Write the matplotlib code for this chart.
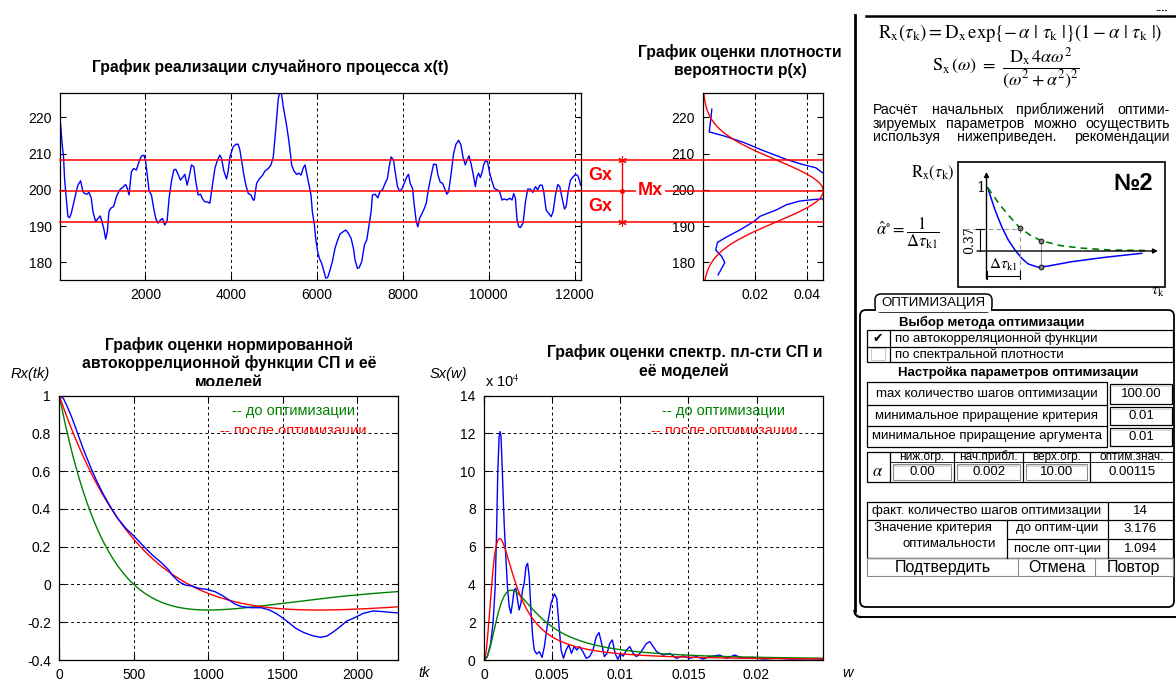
import numpy as np
import matplotlib
matplotlib.use("Agg")
import matplotlib.pyplot as plt
from matplotlib.patches import Rectangle, FancyBboxPatch
from matplotlib.transforms import blended_transform_factory, Bbox

plt.rcParams['font.family'] = ['Liberation Sans', 'DejaVu Sans']
plt.rcParams['mathtext.fontset'] = 'stix'

# ---------------------------------------------------------------- data
# realisation of the random process x(t)
t_real = [10, 23, 62, 93, 117, 156, 195, 233, 272, 327, 389, 428, 490, 545, 584, 638, 685, 739,
          778, 840, 895, 949, 996, 1035, 1074, 1113, 1151, 1190, 1260, 1323, 1400, 1463, 1540,
          1579, 1618, 1673, 1727, 1789, 1852, 1906, 1968, 2007, 2038, 2085, 2140, 2194, 2241,
          2295, 2350, 2396, 2451, 2505, 2552, 2606, 2661, 2707, 2762, 2816, 2879, 2918, 2972,
          3019, 3073, 3128, 3174, 3229, 3283, 3330, 3384, 3439, 3501, 3563, 3618, 3672, 3734,
          3773, 3828, 3890, 3929, 3968, 4046, 4108, 4162, 4201, 4240, 4294, 4341, 4396, 4458,
          4512, 4536, 4590, 4652, 4722, 4785, 4862, 4925, 4979, 5018, 5057, 5096, 5135, 5174,
          5213, 5275, 5329, 5368, 5407, 5461, 5524, 5578, 5625, 5679, 5718, 5757, 5812, 5858,
          5889, 5936, 5967, 6014, 6053, 6107, 6162, 6201, 6247, 6302, 6356, 6418, 6481, 6535,
          6613, 6667, 6730, 6792, 6846, 6885, 6940, 6979, 7041, 7103, 7158, 7212, 7259, 7290,
          7352, 7414, 7469, 7523, 7585, 7640, 7679, 7725, 7780, 7819, 7873, 7920, 7974, 8029,
          8091, 8130, 8169, 8224, 8263, 8310, 8348, 8387, 8426, 8481, 8543, 8597, 8660, 8714,
          8776, 8815, 8870, 8924, 8971, 9025, 9064, 9119, 9181, 9235, 9298, 9352, 9399, 9453,
          9492, 9539, 9585, 9632, 9687, 9725, 9764, 9803, 9842, 9881, 9928, 9974, 10021, 10076,
          10130, 10192, 10247, 10309, 10363, 10426, 10488, 10542, 10581, 10620, 10659, 10698,
          10737, 10799, 10854, 10908, 10970, 11025, 11087, 11141, 11188, 11243, 11281, 11336,
          11398, 11453, 11499, 11554, 11608, 11655, 11709, 11764, 11803, 11849, 11904, 11966,
          12021, 12075, 12122, 12137]
x_real = [219.7, 218.1, 212.4, 209.0, 203.0, 197.6, 192.6, 192.3, 193.5, 196.3, 199.5, 201.3,
          202.5, 199.5, 199.0, 198.8, 199.3, 197.7, 194.0, 191.2, 192.1, 192.8, 190.8, 189.0,
          186.4, 188.5, 194.0, 194.9, 195.4, 198.1, 200.0, 200.6, 201.5, 200.4, 198.6, 205.0,
          205.9, 205.5, 207.8, 209.3, 209.6, 207.8, 204.6, 199.7, 198.6, 194.9, 192.1, 190.8,
          191.7, 192.1, 190.3, 191.4, 197.7, 202.3, 205.5, 205.7, 204.3, 202.7, 203.6, 204.3,
          201.3, 203.6, 206.9, 206.4, 202.3, 198.6, 198.8, 197.5, 196.7, 196.7, 196.3, 201.3,
          205.9, 208.0, 209.6, 208.7, 205.2, 203.0, 205.2, 209.1, 211.9, 212.6, 212.6, 211.0,
          208.2, 204.1, 201.3, 199.0, 198.6, 197.2, 197.2, 201.8, 203.0, 203.9, 205.2, 205.9,
          206.9, 209.1, 214.2, 219.7, 225.2, 227.5, 226.2, 222.9, 218.8, 214.7, 211.0, 206.9,
          205.2, 204.3, 204.6, 204.1, 206.1, 206.9, 204.6, 201.3, 198.6, 194.0, 190.3, 186.6,
          182.9, 181.1, 179.7, 177.4, 175.6, 175.8, 177.9, 180.2, 183.9, 186.2, 187.8, 188.5,
          188.9, 188.0, 186.6, 183.9, 180.6, 178.3, 178.5, 180.2, 184.8, 186.2, 190.3, 194.0,
          198.6, 198.8, 197.8, 199.7, 200.0, 201.8, 203.2, 206.4, 209.1, 208.2, 205.0, 200.9,
          199.7, 200.2, 201.8, 203.6, 204.3, 201.8, 200.4, 195.8, 191.2, 189.8, 192.1, 193.0,
          194.4, 196.3, 200.4, 204.1, 207.1, 207.0, 204.1, 202.1, 201.8, 200.4, 198.8, 199.5,
          204.1, 210.1, 212.6, 213.7, 212.4, 209.1, 206.9, 208.2, 209.4, 207.3, 204.6, 200.9,
          203.6, 204.6, 203.4, 204.8, 206.9, 208.2, 207.6, 204.6, 202.3, 200.4, 200.0, 199.7,
          197.2, 197.5, 197.2, 197.7, 197.2, 199.0, 197.7, 191.7, 189.8, 189.6, 190.8, 196.7,
          200.2, 200.2, 199.3, 200.9, 200.0, 201.3, 201.3, 199.5, 194.4, 193.5, 192.6, 194.0,
          198.6, 201.5, 200.9, 197.7, 194.7, 195.4, 199.5, 202.7, 203.6, 204.3, 203.9, 202.3,
          201.3]
mx_level = 199.7   # mean  Mx
gx_level = 8.6     # std   Gx

# histogram estimate of the probability density p(x)
dens_p = [0.0058, 0.0084, 0.0072, 0.0049, 0.0056, 0.0094, 0.0144, 0.0197, 0.0220, 0.0284,
          0.0322, 0.0372, 0.0423, 0.0461, 0.0500, 0.0510, 0.0490, 0.0461, 0.0435, 0.0385,
          0.0322, 0.0271, 0.0220, 0.0157, 0.0081, 0.0024, 0.0030, 0.0034]
dens_x = [176.5, 179.9, 181.6, 183.4, 185.5, 187.1, 189.0, 191.3, 192.7, 194.5, 195.9, 196.9,
          197.3, 197.5, 199.0, 201.5, 203.8, 204.7, 206.1, 207.0, 208.4, 209.8, 211.2, 213.1,
          214.9, 216.0, 219.5, 222.3]

# estimate of the normalised autocorrelation function
tk_est = [0, 27, 49, 82, 115, 159, 204, 248, 292, 336, 392, 447, 500, 557, 624, 690, 734, 757,
          801, 845, 889, 933, 989, 1044, 1088, 1133, 1177, 1221, 1287, 1354, 1409, 1453, 1486,
          1531, 1586, 1641, 1697, 1752, 1796, 1840, 1885, 1929, 1973, 2039, 2106, 2172, 2245, 2270]
rx_est = [1.0, 0.986, 0.95, 0.889, 0.818, 0.721, 0.633, 0.553, 0.483, 0.421, 0.350, 0.297,
          0.257, 0.209, 0.156, 0.112, 0.077, 0.050, 0.015, -0.003, -0.008, -0.020, -0.026,
          -0.038, -0.056, -0.079, -0.103, -0.117, -0.123, -0.123, -0.135, -0.153, -0.170,
          -0.197, -0.232, -0.255, -0.271, -0.280, -0.273, -0.250, -0.223, -0.193, -0.179,
          -0.153, -0.140, -0.144, -0.149, -0.150]

# estimate of the spectral density (units of 1e4)
w_est = [0, 0.00025, 0.00049, 0.00066, 0.00081, 0.00091, 0.00101, 0.00111, 0.00118, 0.00125,
         0.00135, 0.00148, 0.0016, 0.00172, 0.00185, 0.00197, 0.00209, 0.00221, 0.00234,
         0.00246, 0.00258, 0.00271, 0.00283, 0.00295, 0.00308, 0.0032, 0.00332, 0.00344,
         0.00357, 0.00369, 0.00386, 0.00406, 0.00426, 0.00443, 0.00467, 0.00492, 0.00517,
         0.00534, 0.00549, 0.00566, 0.00583, 0.00603, 0.00622, 0.00642, 0.00662, 0.00681,
         0.00701, 0.00726, 0.0075, 0.00775, 0.008, 0.00824, 0.00844, 0.00863, 0.00883,
         0.00903, 0.00923, 0.00942, 0.00962, 0.00982, 0.01001, 0.01021, 0.01046, 0.0107,
         0.01095, 0.01119, 0.01144, 0.01169, 0.01193, 0.01218, 0.01242, 0.01267, 0.01314,
         0.01363, 0.01412, 0.01461, 0.0151, 0.01559, 0.01607, 0.01656, 0.0173, 0.01779,
         0.0184, 0.019, 0.01974, 0.02047, 0.02145, 0.02267, 0.02389, 0.02487]
sx_est = [0, 0.18, 0.88, 1.94, 3.71, 6.36, 9.9, 11.84, 12.1, 11.84, 9.9, 7.24, 5.48, 3.89, 2.83,
          2.47, 3.0, 3.71, 3.8, 3.18, 2.65, 3.0, 3.71, 4.06, 4.95, 5.12, 4.42, 2.65, 1.24, 0.53,
          0.32, 0.44, 0.14, 0.71, 1.94, 3.0, 3.5, 3.27, 1.94, 0.53, 0.09, 0.53, 0.8, 0.35, 0.71,
          0.53, 0.71, 0.44, 0.09, 0.18, 0.53, 1.24, 1.45, 0.88, 0.18, 0.35, 0.88, 1.06, 0.35,
          0.04, 0.35, 0.2, 0.53, 0.71, 0.35, 0.18, 0.35, 0.62, 0.88, 0.97, 0.71, 0.44, 0.26,
          0.35, 0.09, 0.21, 0.09, 0.18, 0.05, 0.18, 0.26, 0.09, 0.26, 0.09, 0.14, 0.05, 0.09,
          0.05, 0.07, 0.05]

# model parameter alpha before / after optimisation
alpha_before = 0.002
alpha_after = 0.00115

# ticks
real_xticks = [2000, 4000, 6000, 8000, 10000, 12000]
level_yticks = [180, 190, 200, 210, 220]
dens_xticks = [0.02, 0.04]
dens_xticklabels = ['0.02', '0.04']
rx_xticks = [0, 500, 1000, 1500, 2000]
rx_yticks = [-0.4, -0.2, 0, 0.2, 0.4, 0.6, 0.8, 1]
rx_yticklabels = ['-0.4', '-0.2', '0', '0.2', '0.4', '0.6', '0.8', '1']
sx_xticks = [0, 0.005, 0.01, 0.015, 0.02]
sx_xticklabels = ['0', '0.005', '0.01', '0.015', '0.02']
sx_yticks = [0, 2, 4, 6, 8, 10, 12, 14]

# dialog contents
methods = ['по автокорреляционной функции', 'по спектральной плотности']
method_checked = [True, False]
settings = [('max количество шагов оптимизации', '100.00'),
            ('минимальное приращение критерия', '0.01'),
            ('минимальное приращение аргумента', '0.01')]
alpha_headers = ['ниж.огр.', 'нач.прибл.', 'верх.огр.', 'оптим.знач.']
alpha_values = ['0.00', '0.002', '10.00', '0.00115']
steps_done = '14'
crit_before = '3.176'
crit_after = '1.094'
buttons = ['Подтвердить', 'Отмена', 'Повтор']
note_lines = ['Расчёт начальных приближений оптими-',
              'зируемых параметров можно осуществить',
              'используя нижеприведен. рекомендации']

# ---------------------------------------------------------------- figure
W, H = 1176, 680
fig = plt.figure(figsize=(W / 100, H / 100), dpi=100)
fig.patch.set_facecolor('white')

BLUE, RED, GREEN = (0, 0, 1), (1, 0, 0), (0, 0.5, 0)
TICK_FS = 10
GRID = dict(color='black', linestyle=(0, (3, 3)), linewidth=0.7)


def px_axes(x0, y0, x1, y1):
    return fig.add_axes([x0 / W, 1 - y1 / H, (x1 - x0) / W, (y1 - y0) / H])


def matlab_style(ax):
    for s in ax.spines.values():
        s.set_linewidth(0.9)
        s.set_color('black')
    ax.tick_params(direction='in', length=4, width=0.8, top=True, right=True,
                   labelsize=TICK_FS, pad=6, colors='black')


# --- realisation x(t)
ax_real = px_axes(60, 92.5, 580.5, 280)
ax_real.plot(t_real, x_real, color=BLUE, lw=1.0)
ax_real.set_xlim(t_real[0], t_real[-1])
ax_real.set_ylim(175.1, 226.9)
ax_real.set_xticks(real_xticks)
ax_real.set_xticklabels([str(v) for v in real_xticks])
ax_real.set_yticks(level_yticks)
ax_real.set_yticklabels([str(v) for v in level_yticks])
ax_real.grid(True, axis='x', **GRID)
matlab_style(ax_real)

# --- density p(x)
ax_den = px_axes(703, 92.5, 823.3, 280)
lv = np.linspace(175.1, 226.9, 400)
gauss = np.exp(-(lv - mx_level) ** 2 / (2 * gx_level ** 2)) / (gx_level * np.sqrt(2 * np.pi))
ax_den.plot(dens_p, dens_x, color=BLUE, lw=1.0)
ax_den.plot(gauss, lv, color=RED, lw=1.0)
ax_den.set_xlim(0, gauss.max())
ax_den.set_ylim(175.1, 226.9)
ax_den.set_xticks(dens_xticks)
ax_den.set_xticklabels(dens_xticklabels)
ax_den.set_yticks(level_yticks)
ax_den.set_yticklabels([str(v) for v in level_yticks])
ax_den.grid(True, axis='x', **GRID)
matlab_style(ax_den)

# --- autocorrelation
ax_rx = px_axes(59.3, 395.7, 397.7, 660)
tau = np.linspace(0, 2270, 500)
r_before = np.exp(-alpha_before * tau) * (1 - alpha_before * tau)
r_after = np.exp(-alpha_after * tau) * (1 - alpha_after * tau)
ax_rx.plot(tau, r_before, color=GREEN, lw=1.0)
ax_rx.plot(tau, r_after, color=RED, lw=1.0)
ax_rx.plot(tk_est, rx_est, color=BLUE, lw=1.0)
ax_rx.set_xlim(0, 2270)
ax_rx.set_ylim(-0.4, 1)
ax_rx.set_xticks(rx_xticks)
ax_rx.set_xticklabels([str(v) for v in rx_xticks])
ax_rx.set_yticks(rx_yticks)
ax_rx.set_yticklabels(rx_yticklabels)
ax_rx.grid(True, **GRID)
matlab_style(ax_rx)

# --- spectral density
ax_sx = px_axes(484, 395.7, 823.3, 660)
w = np.linspace(0, 0.0249, 800)
D = gx_level ** 2
s_before = D * 4 * alpha_before * w ** 2 / (w ** 2 + alpha_before ** 2) ** 2 / 1e4
s_after = D * 4 * alpha_after * w ** 2 / (w ** 2 + alpha_after ** 2) ** 2 / 1e4
ax_sx.plot(w_est, sx_est, color=BLUE, lw=1.0)
ax_sx.plot(w, s_before, color=GREEN, lw=1.0)
ax_sx.plot(w, s_after, color=RED, lw=1.0)
ax_sx.set_xlim(0, 0.0249)
ax_sx.set_ylim(0, 14)
ax_sx.set_xticks(sx_xticks)
ax_sx.set_xticklabels(sx_xticklabels)
ax_sx.set_yticks(sx_yticks)
ax_sx.set_yticklabels([str(v) for v in sx_yticks])
ax_sx.grid(True, **GRID)
matlab_style(ax_sx)

# ---------------------------------------------------------------- overlay (pixel coordinates)
ui = fig.add_axes([0, 0, 1, 1])
ui.set_autoscale_on(False)
ui.set_xlim(0, W)
ui.set_ylim(H, 0)
ui.axis('off')
ui.patch.set_alpha(0)


def clip_above(txt, y_px):
    txt.set_clip_box(Bbox.from_extents(0, H - y_px, W, H))
    txt.set_clip_on(True)


# level lines Mx, Mx±Gx crossing both upper plots
lvl_tr = blended_transform_factory(ui.transData, ax_real.transData)
for lvl in (mx_level - gx_level, mx_level, mx_level + gx_level):
    ui.plot([60, 823.3], [lvl, lvl], transform=lvl_tr, color=RED, lw=1.1, clip_on=False)
ui.plot([622, 622], [mx_level - gx_level, mx_level + gx_level], transform=lvl_tr,
        color=RED, lw=1.0)
ui.plot([622, 622], [mx_level - gx_level, mx_level + gx_level], transform=lvl_tr,
        ls='none', marker=(6, 2, 0), ms=6, mew=0.8, color=RED)
ui.plot([622], [mx_level], transform=lvl_tr, marker='o', ms=2.5, color=RED)
ui.text(600.5, mx_level + gx_level / 2, 'Gx', transform=lvl_tr, color=RED, fontsize=13,
        fontweight='bold', ha='center', va='center')
ui.text(600.5, mx_level - gx_level / 2, 'Gx', transform=lvl_tr, color=RED, fontsize=13,
        fontweight='bold', ha='center', va='center')
ui.text(650.5, mx_level, 'Mx', transform=lvl_tr, color=RED, fontsize=13, fontweight='bold',
        ha='center', va='center', bbox=dict(facecolor='white', edgecolor='none', pad=1.5))

# titles
TFS = 11.3
ui.text(270.5, 67, 'График реализации случайного процесса x(t)', fontsize=TFS,
        fontweight='bold', ha='center', va='center')
ui.text(740, 52, 'График оценки плотности', fontsize=TFS, fontweight='bold',
        ha='center', va='center')
ui.text(740, 70, 'вероятности p(x)', fontsize=TFS, fontweight='bold', ha='center', va='center')
ui.text(229, 345, 'График оценки нормированной', fontsize=TFS, fontweight='bold',
        ha='center', va='center')
ui.text(229, 363, 'автокоррелционной функции СП и её', fontsize=TFS, fontweight='bold',
        ha='center', va='center')
t3 = ui.text(229, 382.5, 'моделей', fontsize=TFS, fontweight='bold', ha='center', va='center')
clip_above(t3, 385.5)
ui.text(684.5, 352.5, 'График оценки спектр. пл-сти СП и', fontsize=TFS, fontweight='bold',
        ha='center', va='center')
ui.text(684, 371, 'её моделей', fontsize=TFS, fontweight='bold', ha='center', va='center')

# axis captions
ui.text(30, 374, 'Rx(tk)', fontsize=10.5, style='italic', ha='center', va='center')
ui.text(448, 374, 'Sx(w)', fontsize=10.5, style='italic', ha='center', va='center')
ui.text(485, 382, r'x 10$^{4}$', fontsize=10.5, ha='left', va='center')
ui.text(424, 673, 'tk', fontsize=10.5, style='italic', ha='center', va='center')
ui.text(848, 673, 'w', fontsize=10.5, style='italic', ha='center', va='center')

# in-plot model captions
for x0g, x0r in ((231.7, 220), (662.3, 650.7)):
    ui.text(x0g, 415.5, '-- до оптимизации', color=GREEN, fontsize=10.5, ha='left',
            va='baseline')
    tr = ui.text(x0r, 434.5, '-- после оптимизации', color=RED, fontsize=10.5, ha='left',
                 va='baseline')
    clip_above(tr, 432.8)

# ---------------------------------------------------------------- right-hand dialog
K = 'black'
ui.plot([854.5, 854.5], [15, 611], color=K, lw=2.0)
ui.plot([866, 1176], [16, 16], color=K, lw=1.8)
arc = np.linspace(np.pi, np.pi / 2, 12)
ui.plot(860.5 + 6 * np.cos(arc), 611 + 6 * np.sin(arc), color=K, lw=1.6)
ui.plot([860, 1176], [617, 617], color=K, lw=1.4)
ui.text(1161, 8, '....', fontsize=8, fontweight='bold', ha='center', va='center')

# formulas
ui.text(1020, 33, r'$\mathrm{R_x}(\tau_{\mathrm{k}})=\mathrm{D_x\,exp}\{-\,\alpha\ |\ \tau_{\mathrm{k}}\ |\}(1-\alpha\ |\ \tau_{\mathrm{k}}\ |)$',
        fontsize=13.5, ha='center', va='center')
ui.text(1006, 68, r'$\mathrm{S_x}\,(\omega)\ =\ \dfrac{\mathrm{D_x}\,4\alpha\omega^2}{(\omega^2+\alpha^2)^2}$',
        fontsize=13, ha='center', va='center')

# justified note
renderer = fig.canvas.get_renderer()
for line, y in zip(note_lines, (110, 124, 137.5)):
    words = line.split()
    objs = [ui.text(0, y, wd, fontsize=10.2, ha='left', va='center') for wd in words]
    widths = [o.get_window_extent(renderer=renderer).width for o in objs]
    gap = (1170 - 873 - sum(widths)) / (len(words) - 1)
    xx = 873
    for o, wd in zip(objs, widths):
        o.set_x(xx)
        xx += wd + gap

# sketch of the recommended initial estimate
ui.add_patch(Rectangle((957.7, 162.3), 207.3, 124.4, fill=False, ec=K, lw=1.2))
ui.text(932.5, 173, r'$\mathrm{R_x}(\tau_{\mathrm{k}})$', fontsize=12, ha='center', va='center')
ui.text(1133, 183.5, '№2', fontsize=17, fontweight='bold', ha='center', va='center')
ui.annotate('', xy=(986.5, 172), xytext=(986.5, 279),
            arrowprops=dict(arrowstyle='-|>', lw=1.0, color=K, mutation_scale=7,
                            shrinkA=0, shrinkB=0))
ui.annotate('', xy=(1158, 251), xytext=(977, 251),
            arrowprops=dict(arrowstyle='-|>', lw=1.0, color=K, mutation_scale=7,
                            shrinkA=0, shrinkB=0))
ui.text(980.5, 188.5, '1', fontsize=10, family='serif', ha='center', va='center')
sketch_blue_x = [987.7, 995, 1001.7, 1008.3, 1015, 1021.7, 1028.3, 1038.3, 1048.3, 1071.7,
                 1105, 1141.7]
sketch_blue_y = [187.7, 210, 226.7, 240, 250, 258.3, 264, 267.3, 266, 261.7, 257.3, 253.3]
sketch_green_x = [987.7, 1000, 1010, 1020, 1030, 1041, 1060, 1080, 1110, 1145]
sketch_green_y = [187.7, 205, 217, 228, 235, 240.7, 245.5, 248, 250, 250.5]
ui.plot(sketch_blue_x, sketch_blue_y, color=BLUE, lw=1.1)
ui.plot(sketch_green_x, sketch_green_y, color=GREEN, lw=1.2, ls=(0, (4, 3)))
ui.plot([965, 1020], [229, 229], color='0.6', lw=0.8, ls=(0, (4, 3)))
ui.plot([1020, 1020], [229, 277], color='0.6', lw=0.8, ls=(0, (4, 3)))
ui.plot([1041, 1041], [240.7, 267], color='0.6', lw=0.8)
ui.plot([1020, 1041, 1041], [228, 240.7, 266.7], ls='none', marker='o', ms=3.5,
        mfc='0.5', mec=K, mew=0.6)
ui.plot([980, 980], [229, 251], color=K, lw=0.8)
ui.plot([976, 984], [229, 229], color=K, lw=0.8)
ui.text(970, 240, '0.37', fontsize=9, family='serif', rotation=90, ha='center', va='center')
ui.plot([986.5, 1020], [276, 276], color=K, lw=0.8)
ui.plot([986.5, 986.5], [271, 279], color=K, lw=0.8)
ui.plot([1020, 1020], [271, 279], color=K, lw=0.8)
ui.text(1003, 265, r'$\Delta\tau_{\mathrm{k1}}$', fontsize=11, ha='center', va='center')
ui.text(907.5, 233, r'$\hat{\alpha}^{\circ}=\dfrac{1}{\Delta\tau_{\mathrm{k1}}}$',
        fontsize=12, ha='center', va='center')
ui.text(1158, 292, r'$\tau_{\mathrm{k}}$', fontsize=11, ha='center', va='center')

# optimisation panel
ui.add_patch(FancyBboxPatch((860, 310), 314, 297, boxstyle='round,pad=0,rounding_size=6',
                            fc='white', ec=K, lw=1.3))
ui.add_patch(FancyBboxPatch((875, 294), 117, 18, boxstyle='round,pad=0,rounding_size=6',
                            fc='white', ec=K, lw=1.1))
ui.add_patch(Rectangle((876.2, 306), 114.6, 6, fc='white', ec='none'))
ui.text(933.5, 303, 'ОПТИМИЗАЦИЯ', fontsize=9.5, ha='center', va='center')

FS = 9.5
ui.text(991.5, 322.5, 'Выбор метода оптимизации', fontsize=FS, fontweight='bold',
        ha='center', va='center')
ui.add_patch(Rectangle((866.7, 330), 306.6, 32, fill=False, ec=K, lw=0.9))
ui.plot([866.7, 1173.3], [346.5, 346.5], color=K, lw=0.9)
ui.plot([890, 890], [330, 362], color=K, lw=0.9)
for i, (name, chk) in enumerate(zip(methods, method_checked)):
    yc = 338.3 + 16 * i
    ui.text(895, yc, name, fontsize=FS, ha='left', va='center')
    if chk:
        ui.text(878, yc, '✔', fontsize=9, family=['DejaVu Sans'], ha='center', va='center')
    else:
        ui.add_patch(Rectangle((871, yc - 6), 14, 12, fill=False, ec='0.8', lw=0.8))

ui.text(1018, 372.7, 'Настройка параметров оптимизации', fontsize=FS, fontweight='bold',
        ha='center', va='center')
row_edges = [382, 405, 426, 447]
ui.add_patch(Rectangle((866.7, 382), 240, 65, fill=False, ec=K, lw=0.9))
for i, (label, val) in enumerate(settings):
    y0, y1 = row_edges[i], row_edges[i + 1]
    if i > 0:
        ui.plot([866.7, 1106.7], [y0, y0], color=K, lw=0.9)
    yc = (y0 + y1) / 2
    ui.text(986.7, yc, label, fontsize=FS, ha='center', va='center')
    ui.add_patch(Rectangle((1110, y0 + 2), 62, y1 - y0 - 3, fill=False, ec=K, lw=0.9))
    ui.add_patch(Rectangle((1111, y0 + 3), 60, 2, fc='0.85', ec='none'))
    ui.text(1141, yc + 0.5, val, fontsize=FS, ha='center', va='center')

# alpha table
ui.add_patch(Rectangle((866.7, 452), 306.6, 30, fill=False, ec=K, lw=0.9))
col_edges = [890, 954, 1023.3, 1090, 1173.3]
for xe in col_edges[:-1]:
    ui.plot([xe, xe], [452, 482], color=K, lw=0.9)
ui.plot([890, 1173.3], [462, 462], color=K, lw=0.6)
ui.text(878, 471.5, r'$\alpha$', fontsize=12, ha='center', va='center')
for j, (hdr, val) in enumerate(zip(alpha_headers, alpha_values)):
    xa, xb = col_edges[j], col_edges[j + 1]
    xc = (xa + xb) / 2
    ui.text(xc, 456.8, hdr, fontsize=8.5, ha='center', va='center')
    if j < 3:
        ui.add_patch(Rectangle((xa + 3, 464), xb - xa - 6, 16, fill=False, ec='0.55', lw=0.8))
        ui.add_patch(Rectangle((xa + 4, 465), xb - xa - 8, 2, fc='0.85', ec='none'))
    ui.text(xc, 472, val, fontsize=FS, ha='center', va='center')

# results table
ui.add_patch(Rectangle((866.7, 501.7), 306.6, 56.6, fill=False, ec=K, lw=0.9))
ui.plot([866.7, 1173.3], [520, 520], color=K, lw=0.9)
ui.plot([1108.3, 1108.3], [501.7, 558.3], color=K, lw=0.9)
ui.plot([1006.7, 1006.7], [520, 558.3], color=K, lw=0.9)
ui.plot([1006.7, 1173.3], [539, 539], color=K, lw=0.9)
ui.text(986.5, 510.8, 'факт. количество шагов оптимизации', fontsize=FS, ha='center',
        va='center')
ui.text(1140.5, 510.8, steps_done, fontsize=FS, ha='center', va='center')
ui.text(933, 528.5, 'Значение критерия', fontsize=FS, ha='center', va='center')
ui.text(949, 544, 'оптимальности', fontsize=FS, ha='center', va='center')
ui.text(1057.5, 528.5, 'до оптим-ции', fontsize=FS, ha='center', va='center')
ui.text(1057.5, 548.8, 'после опт-ции', fontsize=FS, ha='center', va='center')
ui.text(1140.5, 528.5, crit_before, fontsize=FS, ha='center', va='center')
ui.text(1140.5, 548.8, crit_after, fontsize=FS, ha='center', va='center')

# buttons
ui.add_patch(Rectangle((866.7, 558.3), 306.6, 18, fill=False, ec='0.55', lw=0.8))
for xe in (1018.3, 1095):
    ui.plot([xe, xe], [558.3, 576.3], color='0.55', lw=0.8)
for name, xc in zip(buttons, (943, 1056.5, 1133.5)):
    ui.text(xc, 567.3, name, fontsize=11.5, ha='center', va='center')

fig.savefig('out.png', dpi=100, facecolor='white')
